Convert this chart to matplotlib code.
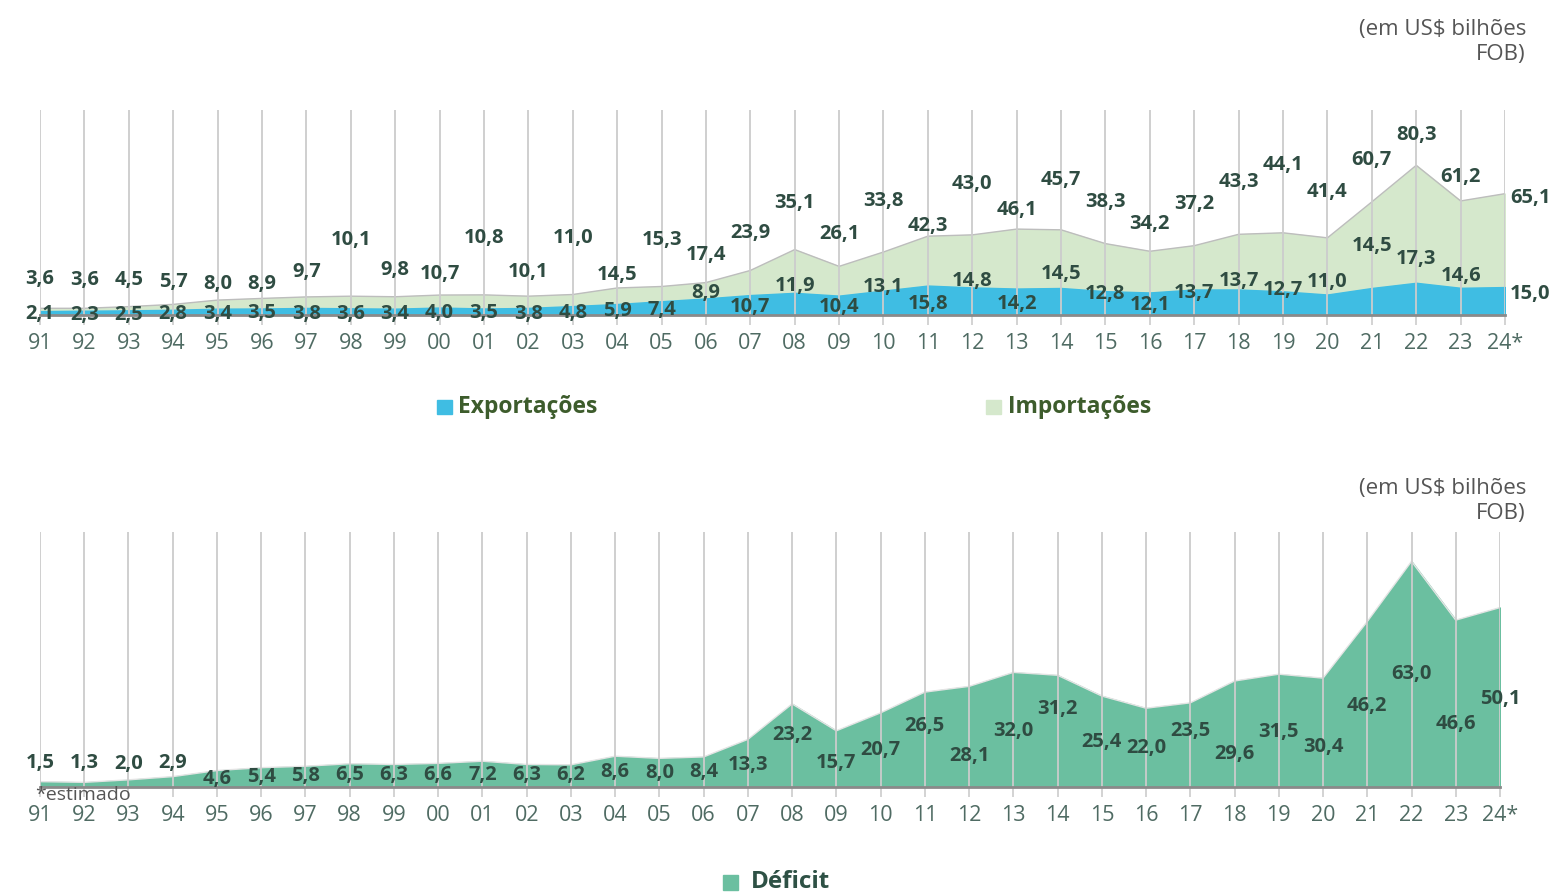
import matplotlib.pyplot as plt
from matplotlib.patches import Rectangle

plt.rcParams['font.family'] = ['Open Sans', 'DejaVu Sans']

anos = ['91', '92', '93', '94', '95', '96', '97', '98', '99', '00', '01', '02',
        '03', '04', '05', '06', '07', '08', '09', '10', '11', '12', '13', '14',
        '15', '16', '17', '18', '19', '20', '21', '22', '23', '24*']

exportacoes = [2.1, 2.3, 2.5, 2.8, 3.4, 3.5, 3.8, 3.6, 3.4,
               4.0, 3.5, 3.8, 4.8, 5.9, 7.4, 8.9, 10.7, 11.9, 10.4,
               13.1, 15.8, 14.8, 14.2, 14.5, 12.8, 12.1, 13.7, 13.7, 12.7,
               11.0, 14.5, 17.3, 14.6, 15.0]

importacoes = [3.6, 3.6, 4.5, 5.7, 8.0, 8.9, 9.7, 10.1, 9.8,
               10.7, 10.8, 10.1, 11.0, 14.5, 15.3, 17.4, 23.9, 35.1, 26.1,
               33.8, 42.3, 43.0, 46.1, 45.7, 38.3, 34.2, 37.2, 43.3, 44.1,
               41.4, 60.7, 80.3, 61.2, 65.1]

deficit = [1.5, 1.3, 2.0, 2.9, 4.6, 5.4, 5.8, 6.5, 6.3,
           6.6, 7.2, 6.3, 6.2, 8.6, 8.0, 8.4, 13.3, 23.2, 15.7,
           20.7, 26.5, 28.1, 32.0, 31.2, 25.4, 22.0, 23.5, 29.6, 31.5,
           30.4, 46.2, 63.0, 46.6, 50.1]

# label offsets above the point, in pixels
off_imp = [29, 28, 27, 22, 16, 14, 25, 56, 27, 21, 57, 24, 56, 13, 46, 28, 37,
           47, 32, 51, 10, 51, 19, 50, 42, 27, 42, 52, 68, 46, 42, 30, 24, -4]
off_exp = [-3, -4, -5, -4, -5, -5, -6, -6, -5, -5, -5, -6, -7, -7, -9, 5, -12,
           7, -11, 4, -18, 6, -15, 14, -3, -13, -4, 8, 1, 13, 42, 24, 12, -7]
off_def = [19, 19, 16, 14, -8, -9, -10, -11, -11, -12, -14, -11, -10, -16, -15,
           -15, -26, -31, -32, -37, -34, -70, -59, -34, -46, -40, -28, -73, -58,
           -69, -84, -113, -104, -91]

c_exp = '#3fbde3'
c_imp = '#d5e8cc'
c_def = '#6bbfa0'
c_lab = '#2f4c42'
c_tick = '#4f6b63'
c_grid = '#cccccc'

x = list(range(len(anos)))


def fmt(v):
    return f'{v:.1f}'.replace('.', ',')


def base_axes(ax, ymax):
    ax.set_xlim(0, len(anos) - 1)
    ax.set_ylim(0, ymax)
    for xi in x:
        ax.axvline(xi, color=c_grid, lw=1.3, zorder=3)
    for s in ['top', 'right', 'left']:
        ax.spines[s].set_visible(False)
    ax.spines['bottom'].set_color('#8a8a8a')
    ax.spines['bottom'].set_linewidth(2)
    ax.spines['bottom'].set_zorder(4)
    ax.set_yticks([])
    ax.set_xticks(x)
    ax.set_xticklabels(anos)
    ax.tick_params(axis='x', length=7, width=1.2, color=c_grid, pad=6,
                   labelsize=15.5, labelcolor=c_tick)
    ax.patch.set_alpha(0)


def labels(ax, vals, offs, dx_last=25):
    for i, (v, o) in enumerate(zip(vals, offs)):
        dx = dx_last if i == len(vals) - 1 else 0
        ax.annotate(fmt(v), (i, v), xytext=(dx, o), textcoords='offset pixels',
                    ha='center', va='center', fontsize=14.5, fontweight='bold',
                    color=c_lab, zorder=6, annotation_clip=False)


fig = plt.figure(figsize=(15.58, 8.93), dpi=100)

# --- top chart ---
ax1 = fig.add_axes([40 / 1558, 1 - 315 / 893, 1465 / 1558, 205 / 893])
base_axes(ax1, 110)
ax1.fill_between(x, importacoes, color=c_imp, zorder=1)
ax1.plot(x, importacoes, color='#bdbdbd', lw=1, zorder=1.5)
ax1.fill_between(x, exportacoes, color=c_exp, zorder=2)
labels(ax1, importacoes, off_imp)
labels(ax1, exportacoes, off_exp)

fig.text(1526 / 1558, 1 - 42 / 893, '(em US$ bilhões\nFOB)', ha='right',
         va='center', fontsize=16, color='#555555', linespacing=1.2)

# legend top
fig.patches.append(Rectangle((437 / 1558, 1 - 414 / 893), 15 / 1558, 14 / 893,
                             transform=fig.transFigure, color=c_exp))
fig.text(458 / 1558, 1 - 407 / 893, 'Exportações', ha='left', va='center',
         fontsize=16.5, fontweight='bold', color='#3d5c2c')
fig.patches.append(Rectangle((986 / 1558, 1 - 414 / 893), 15 / 1558, 14 / 893,
                             transform=fig.transFigure, color=c_imp))
fig.text(1008 / 1558, 1 - 407 / 893, 'Importações', ha='left', va='center',
         fontsize=16.5, fontweight='bold', color='#3d5c2c')

# --- bottom chart ---
ax2 = fig.add_axes([40 / 1558, 1 - 787 / 893, 1460 / 1558, 255 / 893])
base_axes(ax2, 71.2)
ax2.fill_between(x, deficit, color=c_def, zorder=1)
ax2.plot(x, deficit, color='#e4e4e4', lw=1, zorder=1.5)
labels(ax2, deficit, off_def, dx_last=0)

fig.text(1526 / 1558, 1 - 501 / 893, '(em US$ bilhões\nFOB)', ha='right',
         va='center', fontsize=16, color='#555555', linespacing=1.2)
fig.text(35 / 1558, 1 - 795 / 893, '*estimado', ha='left', va='center',
         fontsize=14, color='#555555')

fig.patches.append(Rectangle((723 / 1558, 1 - 890 / 893), 15 / 1558, 15 / 893,
                             transform=fig.transFigure, color=c_def))
fig.text(751 / 1558, 1 - 882 / 893, 'Déficit', ha='left', va='center',
         fontsize=17.5, fontweight='bold', color='#2e5145')

fig.savefig('out.png', dpi=100)
